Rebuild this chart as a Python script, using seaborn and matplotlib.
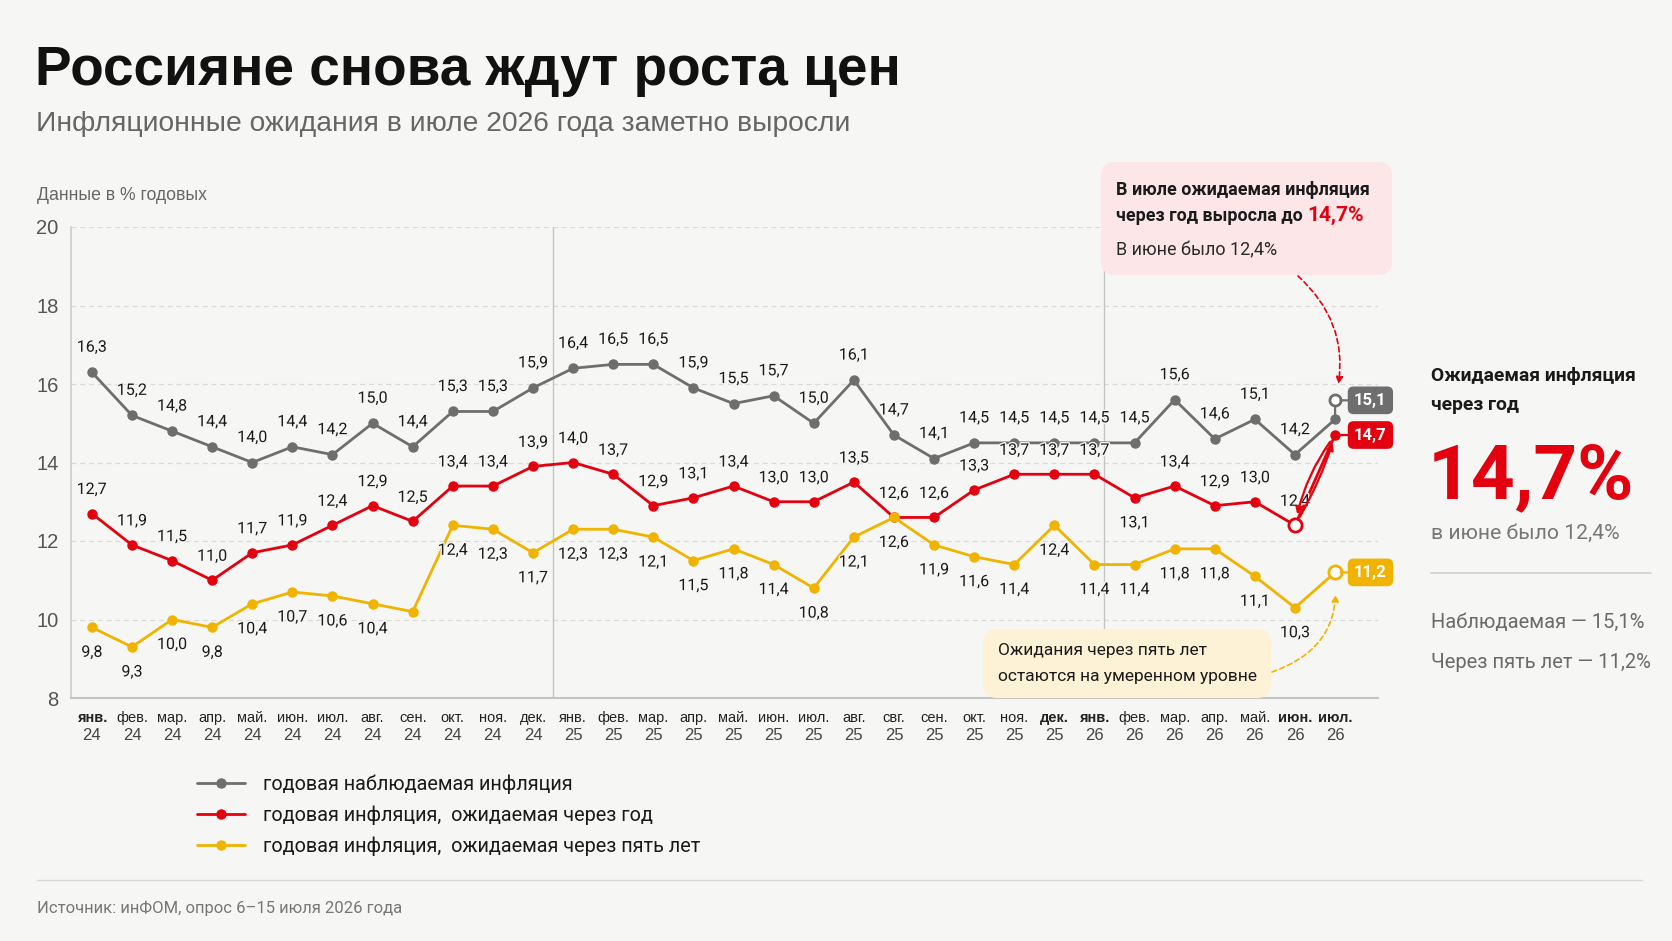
import numpy as np
import pandas as pd
import seaborn as sns
import matplotlib
matplotlib.use("Agg")
import matplotlib.pyplot as plt
from matplotlib import font_manager as fm, transforms
from matplotlib import patheffects as pe
from matplotlib.patches import FancyBboxPatch
from matplotlib.lines import Line2D

# ---------------- data ----------------
months = ["янв.", "фев.", "мар.", "апр.", "май.", "июн.", "июл.", "авг.", "сен.", "окт.", "ноя.", "дек.",
          "янв.", "фев.", "мар.", "апр.", "май.", "июн.", "июл.", "авг.", "свг.", "сен.", "окт.", "ноя.", "дек.",
          "янв.", "фев.", "мар.", "апр.", "май.", "июн.", "июл."]
years = ["24", "24", "24", "24", "24", "24", "24", "24", "24", "24", "24", "24",
         "25", "25", "25", "25", "25", "25", "25", "25", "25", "25", "25", "25", "25",
         "26", "26", "26", "26", "26", "26", "26"]
observed = [16.3, 15.2, 14.8, 14.4, 14.0, 14.4, 14.2, 15.0, 14.4, 15.3, 15.3, 15.9,
            16.4, 16.5, 16.5, 15.9, 15.5, 15.7, 15.0, 16.1, 14.7, 14.1, 14.5, 14.5, 14.5,
            14.5, 14.5, 15.6, 14.6, 15.1, 14.2, 15.1]
expected_1y = [12.7, 11.9, 11.5, 11.0, 11.7, 11.9, 12.4, 12.9, 12.5, 13.4, 13.4, 13.9,
               14.0, 13.7, 12.9, 13.1, 13.4, 13.0, 13.0, 13.5, 12.6, 12.6, 13.3, 13.7, 13.7,
               13.7, 13.1, 13.4, 12.9, 13.0, 12.4, 14.7]
expected_5y = [9.8, 9.3, 10.0, 9.8, 10.4, 10.7, 10.6, 10.4, 10.2, 12.4, 12.3, 11.7,
               12.3, 12.3, 12.1, 11.5, 11.8, 11.4, 10.8, 12.1, 12.6, 11.9, 11.6, 11.4, 12.4,
               11.4, 11.4, 11.8, 11.8, 11.1, 10.3, 11.2]
series_names = ["годовая наблюдаемая инфляция",
                "годовая инфляция,  ожидаемая через год",
                "годовая инфляция,  ожидаемая через пять лет"]
yticks = [8, 10, 12, 14, 16, 18, 20]

# label placement (style)
red_below = [26]
yellow_nolabel = [8]
bold_month_idx = [0, 24, 25, 30, 31]

# ---------------- style ----------------
W, H = 1672, 941
BG = "#f6f6f4"
GREY = "#6e6e6e"
RED = "#e3000f"
YEL = "#f0b400"
TXT = "#1a1a1a"

sns.set_theme(style="white")


def has_font(name):
    try:
        fm.findfont(fm.FontProperties(family=name), fallback_to_default=False)
        return True
    except Exception:
        return False


BODY = "Roboto" if has_font("Roboto") else "DejaVu Sans"
NARROW = "Liberation Sans Narrow" if has_font("Liberation Sans Narrow") else "Liberation Sans"
plt.rcParams["font.family"] = [BODY, "DejaVu Sans"]
plt.rcParams["axes.unicode_minus"] = False


def fx(px):
    return px / W


def fy(py):
    return 1 - py / H


fig = plt.figure(figsize=(W / 100, H / 100), dpi=100)
fig.patch.set_facecolor(BG)
ax = fig.add_axes([fx(71), fy(698), (1378 - 71) / W, (698 - 227) / H])
ax.set_facecolor(BG)

idx = np.arange(len(months))
df = pd.DataFrame({
    "idx": np.concatenate([idx, idx, idx]),
    "value": observed + expected_1y + expected_5y,
    "series": [series_names[0]] * len(idx) + [series_names[1]] * len(idx) + [series_names[2]] * len(idx),
})
palette = {series_names[0]: GREY, series_names[1]: RED, series_names[2]: YEL}
sns.lineplot(data=df, x="idx", y="value", hue="series", palette=palette, marker="o",
             markersize=7.5, markeredgewidth=0, linewidth=2.0, legend=False, ax=ax, sort=False, zorder=4)

ax.set_xlim(-0.52, 32.07)
ax.set_ylim(8, 20)
ax.set_yticks(yticks)
ax.set_yticklabels([str(t) for t in yticks], fontsize=14.5, color="#555555", family=[NARROW, "DejaVu Sans"])
ax.tick_params(axis="y", length=0, pad=9)
ax.set_xticks([])
ax.set_xlabel("")
ax.set_ylabel("")
for t in yticks[1:]:
    ax.axhline(t, color="#dadada", lw=0.9, ls=(0, (4, 3)), zorder=1)
for s in ["top", "right"]:
    ax.spines[s].set_visible(False)
ax.spines["left"].set_color("#cccccc")
ax.spines["left"].set_linewidth(1.2)
ax.spines["bottom"].set_color("#c4c4c4")
ax.spines["bottom"].set_linewidth(1.5)
ax.axvline(11.5, color="#c4c4c4", lw=1.0, zorder=1)
ax.axvline(25.25, color="#c4c4c4", lw=1.0, zorder=1)

# x tick labels (two lines)
btr = transforms.blended_transform_factory(ax.transData, fig.transFigure)
for i, (m, yv) in enumerate(zip(months, years)):
    ax.text(i, fy(718), m, transform=btr, ha="center", va="center", fontsize=10.5,
            color="#222222", family=[NARROW, "DejaVu Sans"],
            fontweight="bold" if i in bold_month_idx else "normal")
    ax.text(i, fy(735), yv, transform=btr, ha="center", va="center", fontsize=12,
            color="#444444", family=[NARROW, "DejaVu Sans"])

# data labels
def lab(v):
    return f"{v:.1f}".replace(".", ",")

halo = [pe.withStroke(linewidth=2, foreground=BG)]
n = len(idx)
LBL = 11.5
for i in range(n - 1):
    ax.annotate(lab(observed[i]), (i, observed[i]), xytext=(0, 25), textcoords="offset pixels",
                ha="center", va="center", fontsize=LBL, color=TXT, zorder=5, path_effects=halo)
for i in range(n - 1):
    off = -25 if i in red_below else 24
    ax.annotate(lab(expected_1y[i]), (i, expected_1y[i]), xytext=(0, off), textcoords="offset pixels",
                ha="center", va="center", fontsize=LBL, color=TXT, zorder=5, path_effects=halo)
for i in range(n - 1):
    if i in yellow_nolabel:
        continue
    ax.annotate(lab(expected_5y[i]), (i, expected_5y[i]), xytext=(0, -25), textcoords="offset pixels",
                ha="center", va="center", fontsize=LBL, color=TXT, zorder=5, path_effects=halo)

# last-point highlights
last = n - 1
circ_tr = transforms.offset_copy(ax.transData, fig=fig, x=0, y=19, units="dots")
ax.annotate("", xy=(last, observed[last]), xytext=(0, 19), textcoords="offset pixels",
            arrowprops=dict(arrowstyle="-", color=GREY, lw=1.6, shrinkA=0, shrinkB=0), zorder=5)
ax.plot([last], [observed[last]], transform=circ_tr, marker="o", mfc="white", mec=GREY, mew=2,
        ms=8, zorder=7, clip_on=False)
ax.plot([last - 1], [expected_1y[last - 1]], marker="o", mfc="white", mec=RED, mew=2, ms=9.5, zorder=7)
ax.plot([last], [expected_5y[last]], marker="o", mfc="white", mec=YEL, mew=2, ms=9.5, zorder=7, clip_on=False)

# red arrows jun -> jul
ax.annotate("", xy=(last, expected_1y[last]), xytext=(last - 1, expected_1y[last - 1]),
            arrowprops=dict(arrowstyle="-|>", color=RED, lw=1.6, shrinkA=7, shrinkB=6,
                            mutation_scale=10, connectionstyle="arc3,rad=0.06"), zorder=6)
ax.annotate("", xy=(last - 1, expected_1y[last - 1]), xytext=(last, expected_1y[last]),
            arrowprops=dict(arrowstyle="-|>", color=RED, lw=1.6, shrinkA=6, shrinkB=8,
                            mutation_scale=10, connectionstyle="arc3,rad=0.12"), zorder=6)

# value boxes at the right
def value_box(text, xy, color, xycoords):
    ax.annotate(text, xy=xy, xycoords=xycoords, xytext=(19, 0), textcoords="offset pixels",
                ha="left", va="center", fontsize=12, fontweight="bold", color="white",
                bbox=dict(boxstyle="round,pad=0.38,rounding_size=0.35", fc=color, ec="none"),
                arrowprops=dict(arrowstyle="-", color=color, lw=1.6, shrinkA=0, shrinkB=4),
                annotation_clip=False, zorder=8)

value_box(lab(observed[last]), (last, observed[last]), GREY, circ_tr)
value_box(lab(expected_1y[last]), (last, expected_1y[last]), RED, "data")
value_box(lab(expected_5y[last]), (last, expected_5y[last]), YEL, "data")

# ---------------- callout boxes ----------------
def rbox(x0, y0, x1, y1, color):
    p = FancyBboxPatch((x0 / 100, (H - y1) / 100), (x1 - x0) / 100, (y1 - y0) / 100,
                       boxstyle="round,pad=0,rounding_size=0.14", fc=color, ec="none",
                       transform=fig.dpi_scale_trans, zorder=2)
    fig.add_artist(p)

rbox(1101, 162, 1392, 275, "#fce6e8")
t1 = fig.text(fx(1116), fy(190), "В июле ожидаемая инфляция", fontsize=12.9, fontweight="bold",
              color=TXT, va="center", zorder=3)
t2 = fig.text(fx(1116), fy(216), "через год выросла до ", fontsize=12.9, fontweight="bold",
              color=TXT, va="baseline", zorder=3)
fig.canvas.draw()
bb = t2.get_window_extent()
t2.set_position((fx(1116), fy(216) - (bb.y0 + bb.height / 2 - fy(216) * H) / H))
fig.canvas.draw()
bb = t2.get_window_extent()
fig.text(bb.x1 / W, t2.get_position()[1], "14,7%", fontsize=15, fontweight="bold", color=RED,
         va="baseline", zorder=3)
fig.text(fx(1116), fy(250), "В июне было 12,4%", fontsize=13, color="#2a2a2a", va="center", zorder=3)

rbox(983, 629, 1271, 698, "#fdf1d6")
fig.text(fx(998), fy(651), "Ожидания через пять лет", fontsize=12.5, color=TXT, va="center", zorder=3)
fig.text(fx(998), fy(676), "остаются на умеренном уровне", fontsize=12.5, color=TXT, va="center", zorder=3)

# dashed arrows
ax.annotate("", xy=(last, observed[last]), xycoords=circ_tr,
            xytext=(fx(1298), fy(276)), textcoords="figure fraction",
            arrowprops=dict(arrowstyle="-|>", color=RED, lw=1.2, ls=(0, (3, 2)), mutation_scale=10,
                            shrinkA=0, shrinkB=12, connectionstyle="arc3,rad=-0.3"),
            annotation_clip=False, zorder=9)
ax.annotate("", xy=(last, expected_5y[last]), xycoords="data",
            xytext=(fx(1272), fy(672)), textcoords="figure fraction",
            arrowprops=dict(arrowstyle="-|>", color=YEL, lw=1.2, ls=(0, (3, 2)), mutation_scale=10,
                            shrinkA=0, shrinkB=16, connectionstyle="arc3,rad=0.4"),
            annotation_clip=False, zorder=9)

# ---------------- titles ----------------
fig.text(fx(35), fy(85), "Россияне снова ждут роста цен", fontsize=39.6, fontweight="bold",
         color="#111111", va="baseline", family=[NARROW, "DejaVu Sans"])
fig.text(fx(36), fy(124), "Инфляционные ожидания в июле 2026 года заметно выросли", fontsize=20.3,
         color="#666666", va="center", family=[NARROW, "DejaVu Sans"])
fig.text(fx(37), fy(195), "Данные в % годовых", fontsize=12.7, color="#666666", va="center",
         family=[NARROW, "DejaVu Sans"])

# ---------------- right panel ----------------
fig.text(fx(1431), fy(376), "Ожидаемая инфляция", fontsize=13.9, fontweight="bold", color=TXT, va="center")
fig.text(fx(1431), fy(405), "через год", fontsize=13.9, fontweight="bold", color=TXT, va="center")
fig.text(fx(1428), fy(498), lab(expected_1y[last]) + "%", fontsize=55, fontweight="bold", color=RED,
         va="baseline")
fig.text(fx(1431), fy(533), "в июне было " + lab(expected_1y[last - 1]) + "%", fontsize=15.2,
         color="#777777", va="center")
fig.add_artist(Line2D([fx(1431), fx(1651)], [fy(573), fy(573)], color="#d0d0d0", lw=1.2,
                      transform=fig.transFigure))
fig.text(fx(1431), fy(622), "Наблюдаемая — " + lab(observed[last]) + "%", fontsize=14.5,
         color="#6a6a6a", va="center")
fig.text(fx(1431), fy(662), "Через пять лет — " + lab(expected_5y[last]) + "%", fontsize=14.5,
         color="#6a6a6a", va="center")

# ---------------- legend ----------------
handles = [Line2D([0], [0], color=c, lw=2, marker="o", ms=7.5, mew=0) for c in (GREY, RED, YEL)]
fig.legend(handles, series_names, loc="upper left", bbox_to_anchor=(fx(197), fy(774)),
           frameon=False, prop={"size": 14.3, "family": [BODY, "DejaVu Sans"]}, handlelength=2.4,
           handletextpad=0.9, labelspacing=0.58, borderpad=0, borderaxespad=0, labelcolor=TXT)

# ---------------- footer ----------------
fig.add_artist(Line2D([fx(37), fx(1642)], [fy(880), fy(880)], color="#d8d8d8", lw=1.0,
                      transform=fig.transFigure))
fig.text(fx(37), fy(908), "Источник: инФОМ, опрос 6–15 июля 2026 года", fontsize=12,
         color="#777777", va="center")

fig.savefig("out.png", dpi=100, facecolor=BG)
